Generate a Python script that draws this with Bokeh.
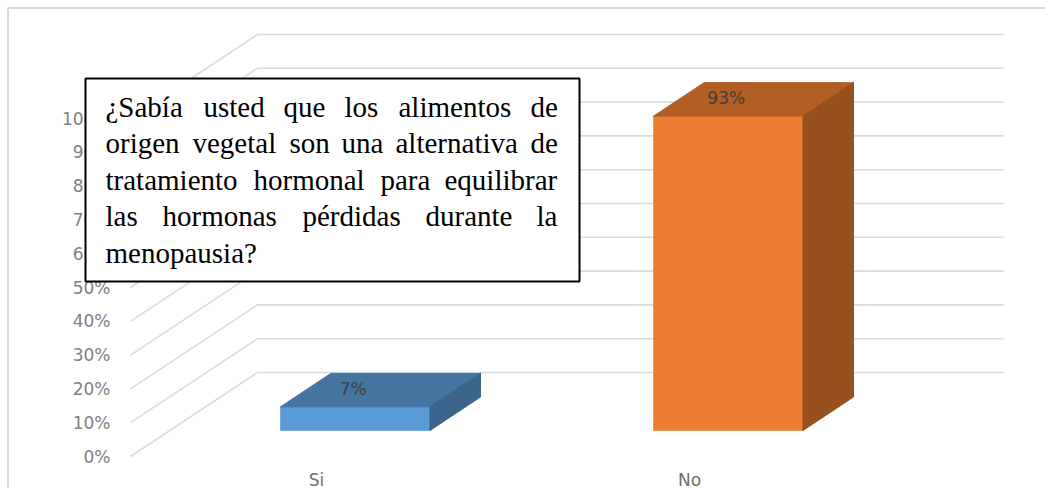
from bokeh.plotting import figure
from bokeh.models import Range1d, FixedTicker, BoxAnnotation, Label, LinearAxis
from bokeh.core.properties import value
from bokeh.embed import file_html
from bokeh.resources import INLINE

categories = ["Si", "No"]
percentages = [7, 93]
percent_labels = ["7%", "93%"]
axis_ticks = [0, 10, 20, 30, 40, 50, 60, 70, 80, 90, 100]
front_colors = ["#5b9bd5", "#ed7d31"]
top_colors = ["#4474a0", "#b25e24"]
side_colors = ["#3b658a", "#98501e"]
question_lines = [
    ["¿Sabía", "usted", "que", "los", "alimentos", "de"],
    ["origen", "vegetal", "son", "una", "alternativa", "de"],
    ["tratamiento", "hormonal", "para", "equilibrar"],
    ["las", "hormonas", "pérdidas", "durante", "la"],
    ["menopausia?"],
]
question_starts = [
    [105, 203, 283, 344, 398, 530],
    [105, 192, 289, 341, 395, 530],
    [105, 253, 380, 444],
    [105, 162, 302, 425, 536],
    [105],
]

# layout, in figure pixels
W, H = 1045, 488
CAT_STEP, CAT0 = 373, 316
PX_PER_PCT = 3.38
ZERO_Y = 456

def xd(px):
    return (px - CAT0) / CAT_STEP

def yd(py):
    return (ZERO_Y - py) / PX_PER_PCT

def xw(px):
    return px / CAT_STEP

def yw(px):
    return px / PX_PER_PCT

p = figure(
    width=W, height=H, output_backend="svg", toolbar_location=None,
    x_range=Range1d(xd(0), xd(W)),
    y_range=Range1d(yd(H), yd(0)),
    min_border=0, x_axis_type=None, y_axis_type=None,
    outline_line_color=None, background_fill_color="white", border_fill_color="white",
)
p.grid.visible = False

yaxis = LinearAxis(fixed_location=xd(128), ticker=FixedTicker(ticks=axis_ticks))
yaxis.major_label_overrides = {t: f"{t}%" for t in axis_ticks}
yaxis.axis_line_color = None
yaxis.major_tick_line_color = None
yaxis.minor_tick_line_color = None
yaxis.major_label_standoff = 12
yaxis.major_label_text_font = "DejaVu Sans"
yaxis.major_label_text_font_size = "17px"
yaxis.major_label_text_color = "#808080"
p.add_layout(yaxis, "left")

xaxis = LinearAxis(fixed_location=yd(456), ticker=FixedTicker(ticks=list(range(len(categories)))))
xaxis.major_label_overrides = {i: c for i, c in enumerate(categories)}
xaxis.axis_line_color = None
xaxis.major_tick_line_color = None
xaxis.minor_tick_line_color = None
xaxis.major_label_standoff = 7
xaxis.major_label_text_font = "DejaVu Sans"
xaxis.major_label_text_font_size = "17px"
xaxis.major_label_text_color = "#6f6f6f"
p.add_layout(xaxis, "below")

# chart frame
p.multi_line(
    xs=[[xd(7.5), xd(7.5), xd(W)]],
    ys=[[yd(H), yd(7.5), yd(7.5)]],
    line_color="#d9d9d9", line_width=2,
)

# gridlines: front-left diagonal, then back wall
wall_depth = yw(84)
p.multi_line(
    xs=[[xd(130), xd(257), xd(1003)] for _ in axis_ticks],
    ys=[[t, t + wall_depth, t + wall_depth] for t in axis_ticks],
    line_color="#dcdcdc", line_width=1.6,
)

# bars as oblique boxes
base = yw(ZERO_Y - 430)
bar_w = xw(149.5)
dx, dy = xw(50.5), yw(33.5)
bar_left = [xd(280), xd(653)]
for l, v, fc, tc, sc in zip(bar_left, percentages, front_colors, top_colors, side_colors):
    r = l + bar_w
    top = base + v
    p.patch([l, r, r, l], [base, base, top, top], fill_color=fc, line_color=fc, line_alpha=0.6, line_width=1)
    p.patch([l, r, r + dx, l + dx], [top, top, top + dy, top + dy], fill_color=tc, line_color=tc, line_width=1)
    p.patch([r, r + dx, r + dx, r], [base, base + dy, top + dy, top], fill_color=sc, line_color=sc, line_width=1)

p.text(
    x=[l + bar_w / 2 - xw(2) for l in bar_left],
    y=[base + v + dy / 2 + yw(1) for v in percentages],
    text=percent_labels,
    text_align="center", text_baseline="middle",
    text_font=value("DejaVu Sans"), text_font_size="17px", text_color="#404040",
)

# question box and its justified text, above axis labels
p.add_layout(BoxAnnotation(
    left=xd(85), right=xd(579), top=yd(78), bottom=yd(281),
    fill_color="white", fill_alpha=1, line_color="black", line_alpha=1, line_width=2,
))
baselines = [106, 142.5, 179, 215.5, 252]
for words, starts, b in zip(question_lines, question_starts, baselines):
    for w, s in zip(words, starts):
        p.add_layout(Label(
            x=xd(s), y=yd(b), text=w,
            text_font="Liberation Serif", text_font_size="29px", text_color="black",
            text_baseline="alphabetic", text_align="left",
        ))

open("out.html", "w").write(file_html(p, INLINE))
